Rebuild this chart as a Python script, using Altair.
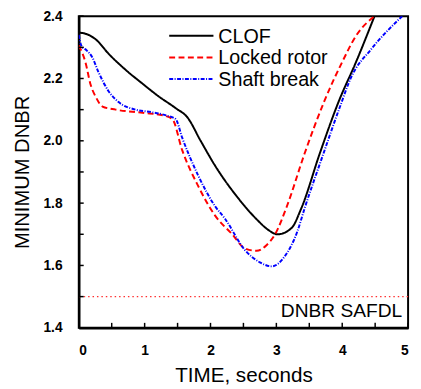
import altair as alt
import pandas as pd

# ---------------- data ----------------
series = ["CLOF", "Locked rotor", "Shaft break"]

clof_t = [0, 0.08, 0.26, 0.45, 0.71, 0.97, 1.21, 1.47, 1.65, 1.85, 2.07, 2.42, 2.72, 2.87, 3.02, 3.23, 3.38, 3.66, 3.95, 4.21, 4.49]
clof_v = [2.347, 2.345, 2.325, 2.28, 2.228, 2.183, 2.143, 2.105, 2.075, 2.0, 1.92, 1.816, 1.744, 1.715, 1.70, 1.72, 1.784, 1.96, 2.128, 2.253, 2.40]

lock_t = [0, 0.1, 0.18, 0.26, 0.36, 0.56, 0.97, 1.31, 1.42, 1.57, 1.81, 2.07, 2.33, 2.52, 2.70, 2.85, 2.98, 3.16, 3.43, 3.73, 4.0, 4.21, 4.49]
lock_v = [2.306, 2.253, 2.18, 2.14, 2.11, 2.10, 2.09, 2.08, 2.07, 1.97, 1.856, 1.76, 1.70, 1.655, 1.647, 1.665, 1.70, 1.79, 1.96, 2.128, 2.253, 2.337, 2.40]

shaft_t = [0, 0.04, 0.12, 0.2, 0.3, 0.45, 0.6, 0.86, 1.1, 1.35, 1.47, 1.57, 1.81, 2.07, 2.22, 2.52, 2.75, 2.93, 3.13, 3.32, 3.43, 3.7, 3.96, 4.14, 4.44, 4.91]
shaft_v = [2.34, 2.305, 2.29, 2.27, 2.22, 2.16, 2.125, 2.10, 2.092, 2.08, 2.07, 2.01, 1.89, 1.79, 1.75, 1.65, 1.61, 1.597, 1.63, 1.71, 1.784, 1.95, 2.106, 2.206, 2.294, 2.40]

safdl = 1.5
safdl_label = "DNBR SAFDL"

x_labels = [0, 1, 2, 3, 4, 5]
y_labels = [1.4, 1.6, 1.8, 2.0, 2.2, 2.4]
x_ticks = [0, 0.5, 1, 1.5, 2, 2.5, 3, 3.5, 4, 4.5, 5]
y_ticks = [1.4, 1.5, 1.6, 1.7, 1.8, 1.9, 2.0, 2.1, 2.2, 2.3, 2.4]

# ---------------- styles ----------------
colors = ["#000000", "#ff0000", "#0000ff"]
dashes = [[1, 0], [6, 3.5], [4, 1.5, 1, 1.5]]
widths = [2, 2, 1.5]
FONT = "Liberation Sans"
W, H = 335, 317
PAD_L, PAD_T = 72, 5

rows = []
for name, ts, vs in zip(series, [clof_t, lock_t, shaft_t], [clof_v, lock_v, shaft_v]):
    for t, v in zip(ts, vs):
        rows.append({"series": name, "t": t, "v": v})
df = pd.DataFrame(rows)

xs = alt.Scale(domain=[0, 5], nice=False, zero=False)
ys = alt.Scale(domain=[1.4, 2.4], nice=False, zero=False)
cs = alt.Scale(domain=series, range=colors)
ds = alt.Scale(domain=series, range=dashes)
ws = alt.Scale(domain=series, range=widths)

x_axis = alt.Axis(values=x_labels, format="d", title="TIME, seconds",
                  labelPadding=16, titleX=W / 2, titleY=49, titleBaseline="middle",
                  titleFontSize=21)
y_axis = alt.Axis(values=y_labels, format=".1f", title="MINIMUM DNBR",
                  labelPadding=17, titleX=-57, titleY=H / 2, titleBaseline="middle",
                  titleFontSize=20.5)

X = lambda f: alt.X(f, scale=xs, axis=x_axis)
Y = lambda f: alt.Y(f, scale=ys, axis=y_axis)

lines = alt.Chart(df).mark_line(interpolate="monotone", clip=True).encode(
    x=X("t:Q"),
    y=Y("v:Q"),
    color=alt.Color("series:N", scale=cs, legend=None),
    strokeDash=alt.StrokeDash("series:N", scale=ds, legend=None),
    strokeWidth=alt.StrokeWidth("series:N", scale=ws, legend=None),
    detail="series:N",
)

# inward ticks
xt = alt.Chart(pd.DataFrame({"t": x_ticks})).mark_rule(color="black", strokeWidth=1.5).encode(
    x=X("t:Q"), y=alt.value(H), y2=alt.value(H - 5))
yt = alt.Chart(pd.DataFrame({"v": y_ticks})).mark_rule(color="black", strokeWidth=1.5).encode(
    y=Y("v:Q"), x=alt.value(0), x2=alt.value(5))

# SAFDL limit
sdf = pd.DataFrame({"v": [safdl], "label": [safdl_label]})
srule = alt.Chart(sdf).mark_rule(color="#ff3030", strokeDash=[1.5, 3], strokeWidth=1.5).encode(
    y=Y("v:Q"))
stext = alt.Chart(sdf).mark_text(align="right", baseline="top", dy=6, font=FONT,
                                 fontSize=19.5, color="black").encode(
    x=alt.value(W - 6), y=Y("v:Q"), text="label:N")

# legend
leg_layers = []
for i, name in enumerate(series):
    ldf = pd.DataFrame({"series": [name]})
    yy = 20 + 22 * i
    leg_layers.append(alt.Chart(ldf).mark_rule().encode(
        x=alt.value(92), x2=alt.value(137), y=alt.value(yy),
        color=alt.Color("series:N", scale=cs, legend=None),
        strokeDash=alt.StrokeDash("series:N", scale=ds, legend=None),
        strokeWidth=alt.StrokeWidth("series:N", scale=ws, legend=None)))
    leg_layers.append(alt.Chart(ldf).mark_text(align="left", baseline="middle", font=FONT,
                                                fontSize=20, color="black").encode(
        x=alt.value(142), y=alt.value(yy + 1), text="series:N"))

chart = alt.layer(lines, srule, stext, xt, yt, *leg_layers).properties(
    width=W, height=H,
    autosize=alt.AutoSizeParams(type="none"),
    padding={"left": PAD_L, "top": PAD_T, "right": 5, "bottom": 60},
).configure_view(stroke="black", strokeWidth=2).configure_axis(
    grid=False, ticks=False, domainColor="black", domainWidth=2.5,
    labelFont=FONT, labelFontSize=14, labelFontWeight="bold", labelColor="black",
    titleFont=FONT, titleFontWeight="normal", titleColor="black",
)

chart.save("out.html", embed_options={"renderer": "svg", "actions": False})
